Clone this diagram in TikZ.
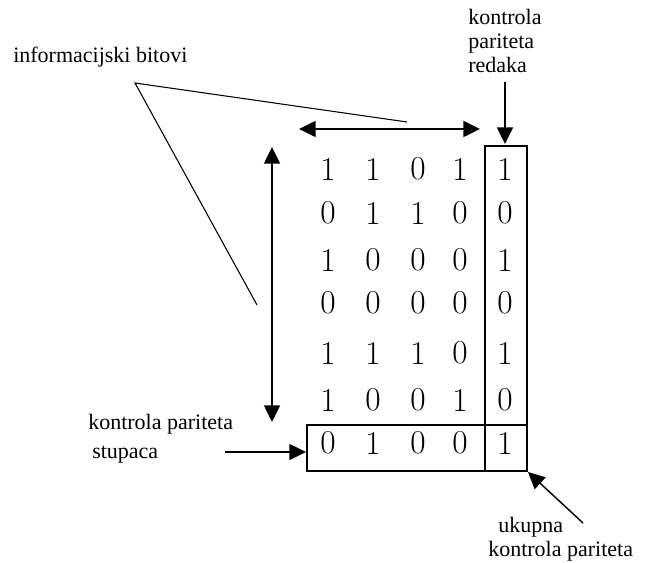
\documentclass[tikz,border=0pt]{standalone}
\usepackage{fontspec}
\newfontfamily\labelfont{Liberation Serif}
\usetikzlibrary{arrows.meta}
\tikzset{
  lbl/.style={font=\labelfont\fontsize{16.5}{18}\selectfont, inner sep=0pt, anchor=base west},
  bit/.style={font=\fontsize{25}{25}\selectfont, inner sep=0pt},
  tip/.style={Triangle[length=12.5pt,width=12pt]},
  arr/.style={line width=1.1pt, -{Triangle[length=12.5pt,width=12pt]}},
  dbl/.style={line width=1.1pt, {Triangle[length=12.5pt,width=12pt]}-{Triangle[length=12.5pt,width=12pt]}},
  leader/.style={line width=0.8pt},
  frame/.style={line width=1.2pt}
}
\begin{document}
\begin{tikzpicture}[x=0.75pt,y=-0.75pt]
  \useasboundingbox (0,0) rectangle (656,563);

  % parity-check frames: row parity column and column parity row
  \draw[frame] (485,146) rectangle (527,471);
  \draw[frame] (307,425) rectangle (527,471);

  % bit matrix (6 data rows + parity row, 4 data columns + parity column)
  \def\colx{{328,373,418,460,505}}
  \def\rowy{{169,213,260,303,353,400,443}}
  \foreach \r/\bits in {0/{1,1,0,1,1},1/{0,1,1,0,0},2/{1,0,0,0,1},3/{0,0,0,0,0},4/{1,1,1,0,1},5/{1,0,0,1,0},6/{0,1,0,0,1}} {
    \foreach \b [count=\c from 0] in \bits {
      \pgfmathsetmacro{\xx}{\colx[\c]}
      \pgfmathsetmacro{\yy}{\rowy[\r]}
      \node[bit] (d-\r-\c) at (\xx,\yy) {\b};
    }
  }

  % labels
  \node[lbl] (info) at (13,63) {informacijski bitovi};
  \node[lbl] (rp1) at (468,25) {kontrola};
  \node[lbl] (rp2) at (468,49) {pariteta};
  \node[lbl] (rp3) at (468,73) {redaka};
  \node[lbl] (cp1) at (88,429) {kontrola pariteta};
  \node[lbl] (cp2) at (92,458) {stupaca};
  \node[lbl] (tp1) at (498,532) {ukupna};
  \node[lbl] (tp2) at (488,556) {kontrola pariteta};

  % anchor points for connectors
  \coordinate (apex) at (135,83);
  \coordinate (lead-h) at (407,122);
  \coordinate (lead-v) at (257,305);
  \coordinate (h-left) at (299,129);
  \coordinate (h-right) at (480,129);
  \coordinate (v-top) at (272,147);
  \coordinate (v-bot) at (272,422);
  \coordinate (rp-start) at (505,82);
  \coordinate (rp-end) at (505,144);
  \coordinate (cp-start) at (225,452);
  \coordinate (cp-end) at (306,452);
  \coordinate (tp-start) at (583,523);
  \coordinate (tp-end) at (528,472);

  % leader lines from the label
  \draw[leader] (lead-h) -- (apex) -- (lead-v);

  % extent of the information bits
  \draw[dbl] (h-left) -- (h-right);
  \draw[dbl] (v-top) -- (v-bot);

  % pointers to the parity parts
  \draw[arr] (rp-start) -- (rp-end);
  \draw[arr] (cp-start) -- (cp-end);
  \draw[arr] (tp-start) -- (tp-end);
\end{tikzpicture}
\end{document}
